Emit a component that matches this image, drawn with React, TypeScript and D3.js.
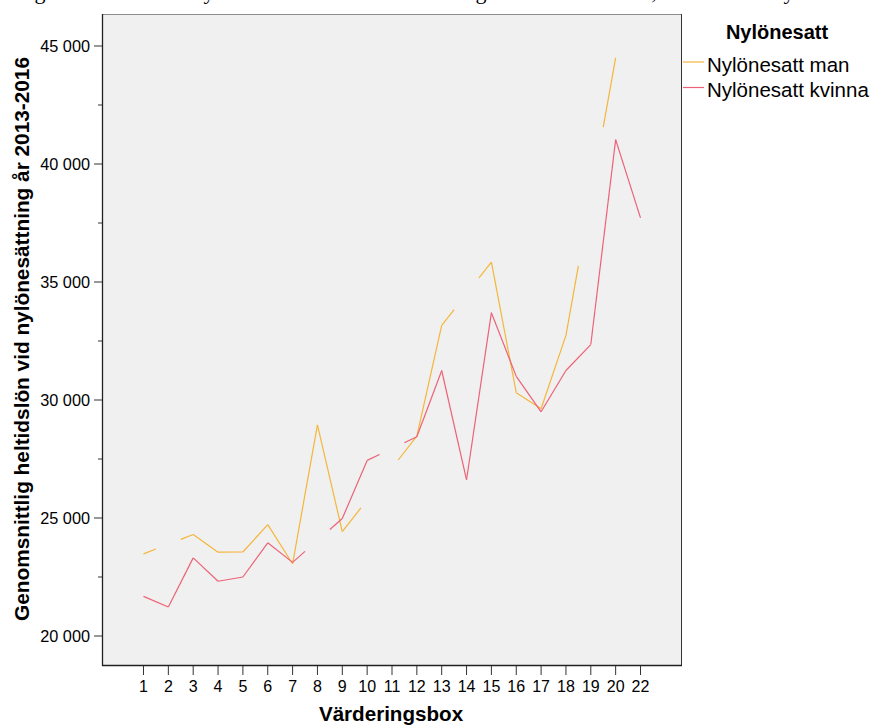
import React from "react";
import * as d3 from "d3";

const categories = ["1","2","3","4","5","6","7","8","9","10","11","12","13","14","15","16","17","18","19","20","22"];
const manValues: (number | null)[] = [23480, null, 24300, 23550, 23560, 24720, 23060, 28950, 24420, null, null, 28470, 33160, null, 35840, 30310, 29630, 32740, null, 44500, null];
const kvinnaValues: (number | null)[] = [21680, 21230, 23310, 22320, 22500, 23950, 23120, null, 24980, 27440, null, 28440, 31250, 26620, 33700, 31000, 29500, 31250, 32350, 41030, 37720];
const yTicks = [20000, 25000, 30000, 35000, 40000, 45000];
const yMinorTicks = [22500, 27500, 32500, 37500, 42500];
const seriesNames = ["Nylönesatt man", "Nylönesatt kvinna"];
const seriesColors = ["#f4b63a", "#ec6275"];
const captionGlyphs = [
  { ch: "g", x: 40 },
  { ch: "y", x: 209 },
  { ch: "g", x: 481 },
  { ch: ",", x: 654 },
  { ch: "y", x: 789 },
];

const W = 871, H = 727;
const left = 102, right = 682, top = 14, bottom = 666;

const x = d3.scalePoint<string>().domain(categories).range([left, right]).padding(1.67);
const y = d3.scaleLinear().domain([20000, 45000]).range([636, 46]);
const fmt = d3.formatLocale({ decimal: ",", thousands: " ", grouping: [3], currency: ["", ""] }).format(",d");
const line = d3.line<[number, number]>().x(d => d[0]).y(d => d[1]);

function segments(values: (number | null)[]): [number, number][][] {
  const pts: { i: number; p: [number, number] }[] = [];
  values.forEach((v, i) => { if (v != null) pts.push({ i, p: [x(categories[i])!, y(v)] }); });
  const segs: [number, number][][] = [];
  for (let k = 0; k < pts.length - 1; k++) {
    const a = pts[k], b = pts[k + 1];
    if (b.i - a.i === 1) segs.push([a.p, b.p]);
    else {
      const dx = b.p[0] - a.p[0], dy = b.p[1] - a.p[1];
      segs.push([a.p, [a.p[0] + dx * 0.25, a.p[1] + dy * 0.25]]);
      segs.push([[b.p[0] - dx * 0.25, b.p[1] - dy * 0.25], b.p]);
    }
  }
  return segs;
}

export default function App() {
  const font = "Arial, 'Liberation Sans', sans-serif";
  const allSeries = [manValues, kvinnaValues];
  return (
    <svg width={W} height={H} style={{ position: "absolute", left: 0, top: 0, background: "#fff" }} fontFamily={font}>
      {captionGlyphs.map((g, i) => (
        <text key={i} x={g.x} y={-1} textAnchor="middle" fontFamily="'Liberation Serif', 'Times New Roman', serif" fontSize={22} fill="#000">{g.ch}</text>
      ))}
      <rect x={left} y={top} width={right - left} height={bottom - top} fill="#f0f0f0" />
      <line x1={left} x2={right} y1={top + 0.5} y2={top + 0.5} stroke="#8c8c8c" strokeWidth={1} />
      <line x1={right - 0.5} x2={right - 0.5} y1={top} y2={bottom} stroke="#333" strokeWidth={1} />
      <line x1={left + 0.5} x2={left + 0.5} y1={top} y2={bottom} stroke="#222" strokeWidth={1.3} />
      <line x1={left} x2={right} y1={bottom - 0.5} y2={bottom - 0.5} stroke="#222" strokeWidth={1.3} />
      {yTicks.map(t => (
        <g key={t}>
          <line x1={left - 8} x2={left} y1={y(t)} y2={y(t)} stroke="#333" />
          <text x={left - 12} y={y(t)} dy="0.35em" textAnchor="end" fontSize={16.3} fill="#000">{fmt(t)}</text>
        </g>
      ))}
      {yMinorTicks.map(t => (
        <line key={t} x1={left - 4} x2={left} y1={y(t)} y2={y(t)} stroke="#333" />
      ))}
      {categories.map(c => (
        <g key={c}>
          <line x1={x(c)!} x2={x(c)!} y1={bottom} y2={bottom + 9} stroke="#333" />
          <text x={x(c)!} y={692} textAnchor="middle" fontSize={16} fill="#000">{c}</text>
        </g>
      ))}
      {allSeries.map((vals, si) => (
        <g key={si}>
          {segments(vals).map((s, k) => (
            <path key={k} d={line(s)!} fill="none" stroke={seriesColors[si]} strokeWidth={1.2} />
          ))}
        </g>
      ))}
      <text x={391} y={721} textAnchor="middle" fontSize={20.6} fontWeight="bold" fill="#000">Värderingsbox</text>
      <text transform="translate(29,339) rotate(-90)" textAnchor="middle" fontSize={20.8} fontWeight="bold" fill="#000">Genomsnittlig heltidslön vid nylönesättning år 2013-2016</text>
      <text x={777} y={39} textAnchor="middle" fontSize={20} fontWeight="bold" fill="#000">Nylönesatt</text>
      {seriesNames.map((n, i) => (
        <g key={n}>
          <line x1={683} x2={704} y1={62 + i * 25.5} y2={62 + i * 25.5} stroke={seriesColors[i]} strokeWidth={1.2} />
          <text x={707} y={71.5 + i * 25.5} fontSize={20.5} fill="#000">{n}</text>
        </g>
      ))}
    </svg>
  );
}
